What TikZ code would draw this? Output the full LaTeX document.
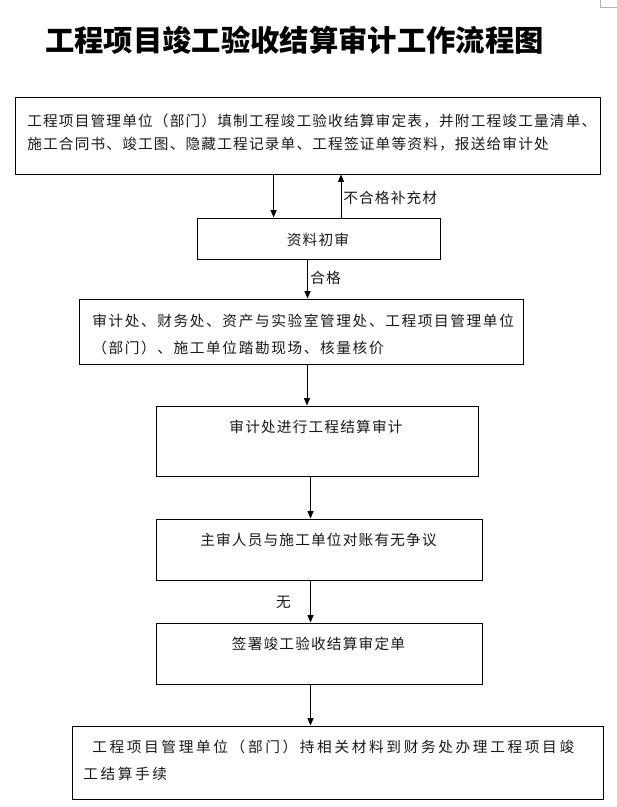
\documentclass[tikz,border=0pt]{standalone}
\usepackage{fontspec}
\usetikzlibrary{arrows.meta}
\newfontfamily\cjka[LetterSpace=8]{Noto Sans CJK SC}
\newfontfamily\cjkb[LetterSpace=11]{Noto Sans CJK SC}
\newfontfamily\cjkc[LetterSpace=18]{Noto Sans CJK SC}
\newfontfamily\cjkt{Noto Sans CJK SC}
\begin{document}
\begin{tikzpicture}[x=0.75pt,y=-0.75pt]
\tikzset{
  box/.style={draw, line width=0.75pt, inner sep=0pt, rectangle},
  txta/.style={inner sep=0pt, font=\cjka\fontsize{11}{13}\selectfont, text=black!90},
  txtb/.style={inner sep=0pt, font=\cjkb\fontsize{11}{13}\selectfont, text=black!90},
  txtc/.style={inner sep=0pt, font=\cjkc\fontsize{11}{13}\selectfont, text=black!90},
  arr/.style={draw, line width=0.75pt, -{Triangle[length=5.5pt,width=4.5pt]}},
}
\fill[white] (0,0) rectangle (617,807);
\useasboundingbox (0,0) rectangle (617,807);
% corner mark
\draw[gray!60, line width=0.6pt] (600,0) -- (600,7) -- (617,7);
% title
\node[inner sep=0pt, font=\cjkt\bfseries\fontsize{22}{26}\selectfont] (title) at (294.5,40) {工程项目竣工验收结算审计工作流程图};
% boxes
\node[box, minimum width=438.75pt, minimum height=57.75pt] (b1) at (307.5,135.5) {};
\node[box, minimum width=182.25pt, minimum height=30.75pt] (b2) at (318.5,238.5) {};
\node[box, minimum width=333pt, minimum height=48.75pt] (b3) at (301,331.5) {};
\node[box, minimum width=241.5pt, minimum height=52.5pt] (b4) at (317,441) {};
\node[box, minimum width=244.5pt, minimum height=45.75pt] (b5) at (319,549.5) {};
\node[box, minimum width=244.5pt, minimum height=45.75pt] (b6) at (319,653.5) {};
\node[box, minimum width=398.25pt, minimum height=54.75pt] (b7) at (337.5,762.5) {};
% texts
\node[txta, anchor=west] (t1a) at (27,120.7) {工程项目管理单位（部门）填制工程竣工验收结算审定表，并附工程竣工量清单、};
\node[txta, anchor=west] (t1b) at (27,144) {施工合同书、竣工图、隐藏工程记录单、工程签证单等资料，报送给审计处};
\node[txta] (t2) at (318,240) {资料初审};
\node[txtb, anchor=west] (t3a) at (92,321) {审计处、财务处、资产与实验室管理处、工程项目管理单位};
\node[txtb, anchor=west] (t3b) at (92,348) {（部门）、施工单位踏勘现场、核量核价};
\node[txta] (t4) at (316,427) {审计处进行工程结算审计};
\node[txta] (t5) at (318.5,540) {主审人员与施工单位对账有无争议};
\node[txta] (t6) at (318.5,644) {签署竣工验收结算审定单};
\node[txtc, anchor=west] (t7a) at (92,747) {工程项目管理单位（部门）持相关材料到财务处办理工程项目竣};
\node[txtc, anchor=west] (t7b) at (83,774) {工结算手续};
% connectors
\coordinate (c1) at (273.6,0);
\coordinate (c2) at (341,0);
\coordinate (c3) at (307.5,0);
\coordinate (c4) at (307,0);
\coordinate (c5) at (310.5,0);
\draw[arr] (b1.south -| c1) -- (b2.north -| c1);
\draw[arr] (b2.north -| c2) -- (b1.south -| c2);
\draw[arr] (b2.south -| c3) -- (b3.north -| c3);
\draw[arr] (b3.south -| c4) -- (b4.north -| c4);
\draw[arr] (b4.south -| c5) -- (b5.north -| c5);
\draw[arr] (b5.south -| c5) -- (b6.north -| c5);
\draw[arr] (b6.south -| c5) -- (b7.north -| c5);
% labels
\node[txta, anchor=west] (l1) at (343,198) {不合格补充材};
\node[txta, anchor=west] (l2) at (310,278) {合格};
\node[txta] (l3) at (283.5,602) {无};
\end{tikzpicture}
\end{document}
